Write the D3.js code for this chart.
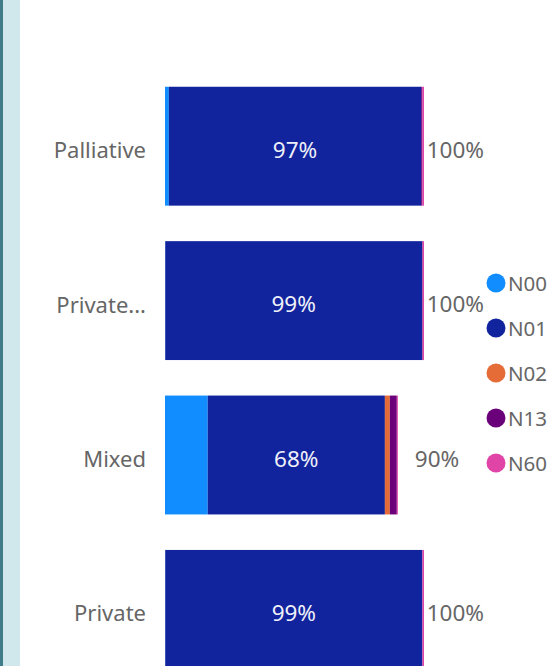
<!DOCTYPE html>
<html lang="en">
<head>
<meta charset="UTF-8">
<title>Stacked bars</title>
<script src="https://d3js.org/d3.v7.min.js"></script>
<style>
  body { margin: 0; background: #fff; overflow: hidden; }
  svg text { font-family: "Segoe UI", "Noto Sans", sans-serif; }
</style>
</head>
<body>
<svg id="canvas"></svg>
<script>
let width = 557
let height = 666

// data (percent of each category)
let categories = ["Palliative", "Private...", "Mixed", "Private"]
let seriesNames = ["N00", "N01", "N02", "N13", "N60"]
let seriesColors = ["#118DFF", "#12239E", "#E66C37", "#6B007B", "#E044A7"]
let N00 = [1.5, 0.1, 16.5, 0.1]
let N01 = [97.4, 99.2, 68.4, 99.3]
let N02 = [0, 0, 1.9, 0]
let N13 = [0.5, 0.2, 2.7, 0]
let N60 = [0.6, 0.5, 0.4, 0.6]

let seriesValues = [N00, N01, N02, N13, N60]

let rows = categories.map((c, i) => {
  let row = { category: c }
  seriesNames.forEach((s, j) => row[s] = seriesValues[j][i])
  return row
})

let svg = d3.select("#canvas")
  .attr("width", width)
  .attr("height", height)

// left panel strip
svg.append("rect").attr("x", 0).attr("y", 0).attr("width", 20).attr("height", height).attr("fill", "#d0e7eb")
svg.append("rect").attr("x", 0).attr("y", 0).attr("width", 3).attr("height", height).attr("fill", "#3f7d88")

let plotRight = 484
let textShift = 3 // labels sit slightly below the band centre

let xScale = d3.scaleLinear()
  .domain([0, 100])
  .range([165, 424])

let yScale = d3.scaleBand()
  .domain(categories)
  .range([69, 686.6])
  .paddingInner(0.23)
  .paddingOuter(0.115)

let colorScale = d3.scaleOrdinal()
  .domain(seriesNames)
  .range(seriesColors)

let stacked = d3.stack().keys(seriesNames)(rows)

svg.append("g")
  .selectAll("g")
  .data(stacked)
  .enter()
  .append("g")
  .attr("fill", (d) => colorScale(d.key))
  .selectAll("rect")
  .data((d) => d)
  .enter()
  .append("rect")
  .attr("x", (d) => xScale(d[0]))
  .attr("y", (d) => yScale(d.data.category))
  .attr("width", (d) => xScale(d[1]) - xScale(d[0]))
  .attr("height", yScale.bandwidth())

// N01 labels inside bars
let n01 = stacked[1]
svg.append("g")
  .selectAll("text")
  .data(n01)
  .enter()
  .append("text")
  .attr("x", (d) => (xScale(d[0]) + xScale(d[1])) / 2)
  .attr("y", (d) => yScale(d.data.category) + yScale.bandwidth() / 2 + textShift)
  .attr("text-anchor", "middle")
  .attr("dominant-baseline", "central")
  .attr("font-size", 22.5)
  .attr("fill", "#eef0f8")
  .text((d) => d3.format(".0f")(d[1] - d[0]) + "%")

// category axis
let yAxis = d3.axisLeft(yScale).tickSize(0).tickPadding(0)
let yG = svg.append("g")
  .attr("transform", "translate(146," + textShift + ")")
  .call(yAxis)
yG.select(".domain").remove()
yG.selectAll("text")
  .attr("font-size", 22)
  .attr("fill", "#666666")
  .attr("dy", null)
  .attr("dominant-baseline", "central")

// totals
let totals = rows.map((r) => ({ category: r.category, total: d3.sum(seriesNames, (s) => r[s]) }))
svg.append("g")
  .selectAll("text")
  .data(totals)
  .enter()
  .append("text")
  .attr("y", (d) => yScale(d.category) + yScale.bandwidth() / 2 + textShift)
  .attr("dominant-baseline", "central")
  .attr("font-size", 22.5)
  .attr("fill", "#666666")
  .text((d) => d3.format(".0f")(d.total) + "%")
  .attr("x", function (d) {
    let w = this.getComputedTextLength()
    let x = xScale(d.total) + 17
    return Math.min(x, plotRight - w)
  })

// legend
let legend = svg.append("g")
  .selectAll("g")
  .data(seriesNames)
  .enter()
  .append("g")
  .attr("transform", (d, i) => "translate(496," + (283 + i * 45) + ")")
legend.append("circle")
  .attr("r", 9.5)
  .attr("fill", (d) => colorScale(d))
legend.append("text")
  .attr("x", 12)
  .attr("dominant-baseline", "central")
  .attr("font-size", 20.5)
  .attr("fill", "#666666")
  .text((d) => d)
</script>
</body>
</html>
